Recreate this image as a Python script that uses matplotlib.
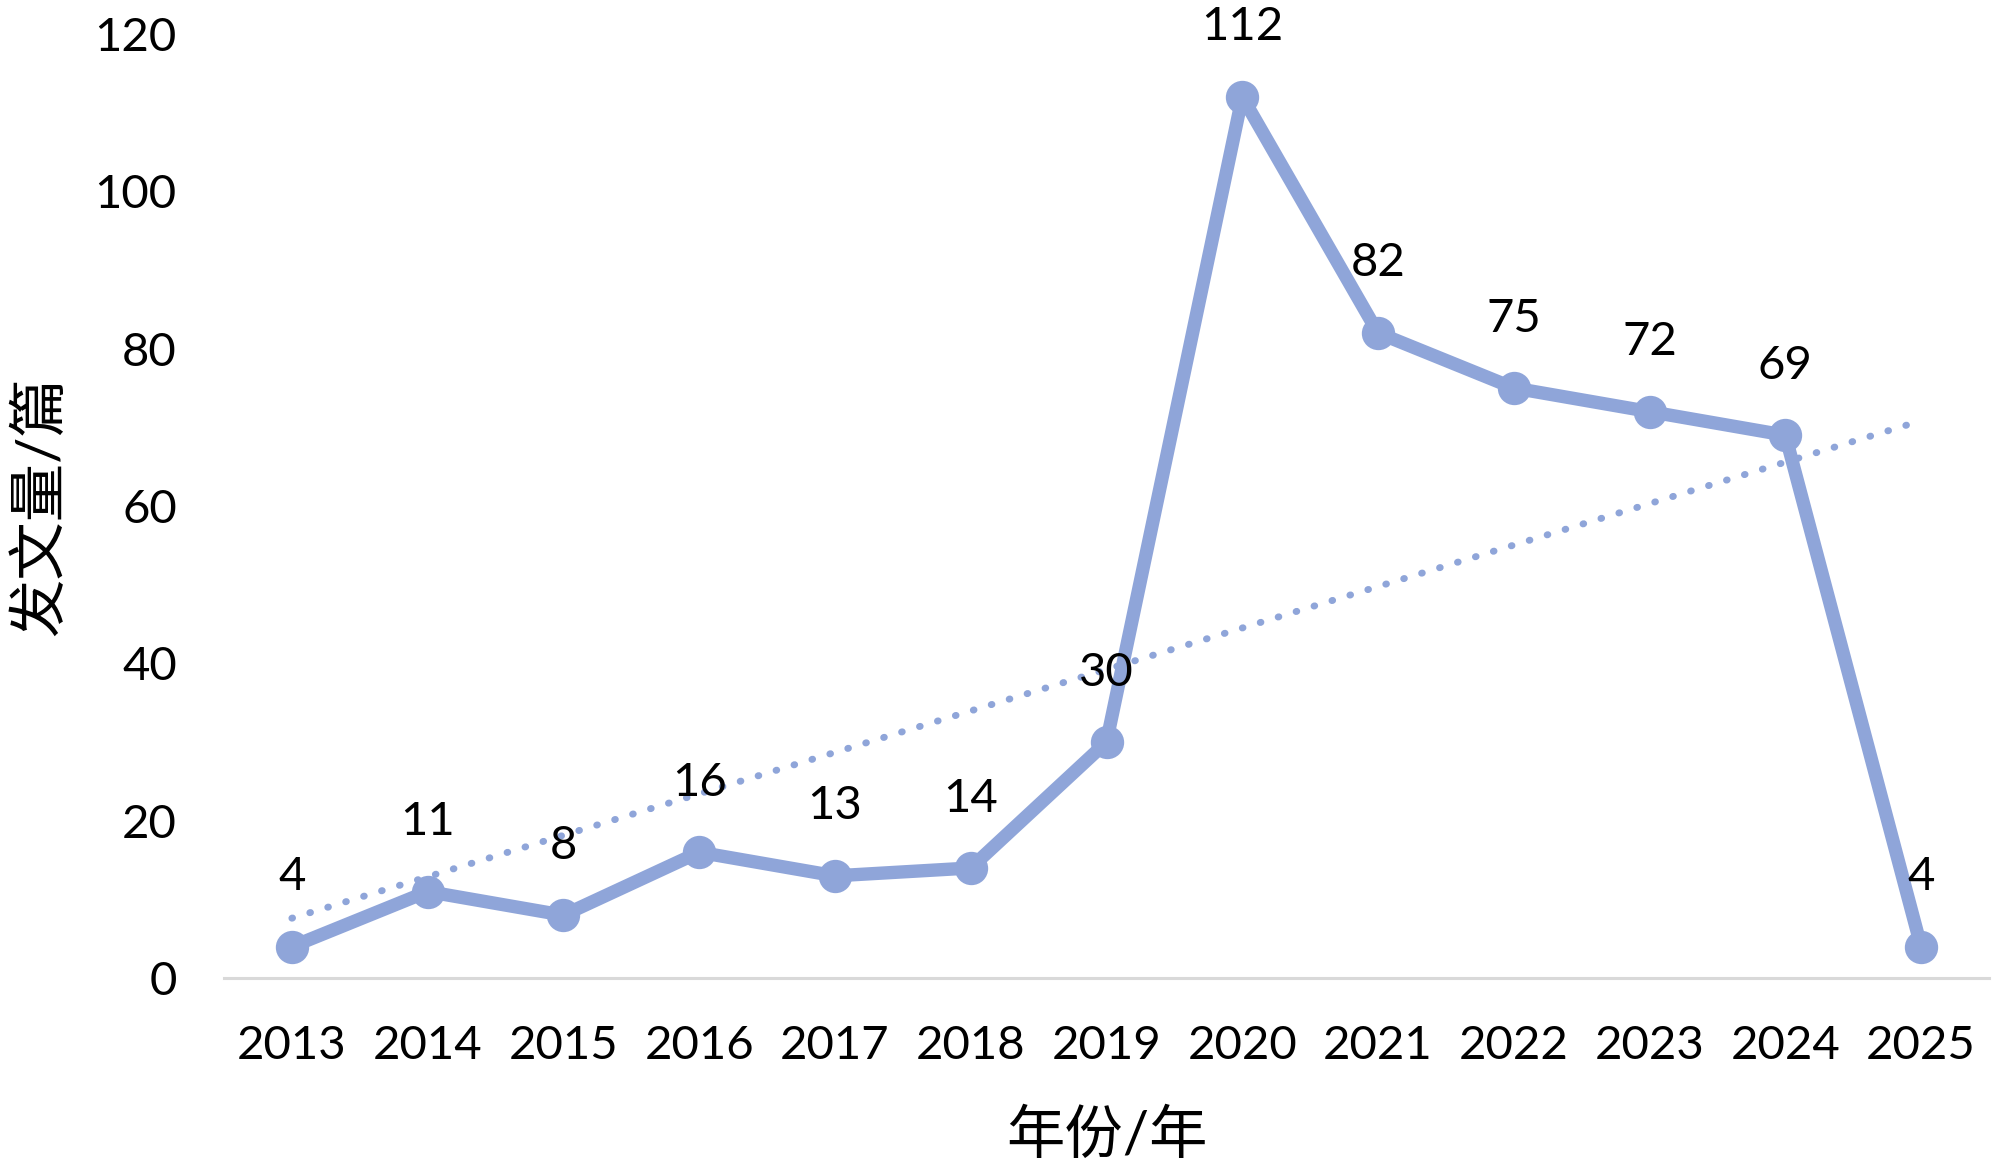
import matplotlib
matplotlib.use('Agg')
import matplotlib.pyplot as plt
import numpy as np

# data
years = ['2013', '2014', '2015', '2016', '2017', '2018', '2019',
         '2020', '2021', '2022', '2023', '2024', '2025']
counts = [4, 11, 8, 16, 13, 14, 30, 112, 82, 75, 72, 69, 4]
y_ticks = [0, 20, 40, 60, 80, 100, 120]

plt.rcParams['font.family'] = ['Lato', 'Noto Sans CJK SC', 'DejaVu Sans']

color = '#8FA5D9'

fig = plt.figure(figsize=(10, 5.85), dpi=200)
ax = fig.add_axes([0.112, 0.164, 0.8825, 0.807])

x = np.arange(len(years))
ax.plot(x, counts, color=color, linewidth=4.8, marker='o', markersize=11,
        solid_joinstyle='round', zorder=3)

# linear trendline (as in Excel)
k, b = np.polyfit(x, counts, 1)
ax.plot(x, k * x + b, color=color, linewidth=2.5,
        linestyle=(0, (0.1, 2.6)), dash_capstyle='round', zorder=2)

for xi, v in zip(x, counts):
    ax.annotate(str(v), (xi, v), xytext=(0, 25), textcoords='offset points',
                ha='center', va='center', fontsize=17, color='black', zorder=4)

ax.set_xlim(-0.5, len(years) - 0.5)
ax.set_ylim(0, 120)
ax.set_xticks(x)
ax.set_xticklabels(years, fontsize=17)
ax.set_yticks(y_ticks)
ax.set_yticklabels([str(t) for t in y_ticks], fontsize=17)
ax.tick_params(axis='both', length=0)
ax.tick_params(axis='x', pad=17)
ax.tick_params(axis='y', pad=17)

for s in ['top', 'right', 'left']:
    ax.spines[s].set_visible(False)
ax.spines['bottom'].set_color('#D9D9D9')
ax.spines['bottom'].set_linewidth(1.1)

ax.set_xlabel('年份/年', fontsize=21, labelpad=15)
ax.set_ylabel('发文量/篇', fontsize=21, labelpad=10)

fig.savefig('out.png', dpi=200)
